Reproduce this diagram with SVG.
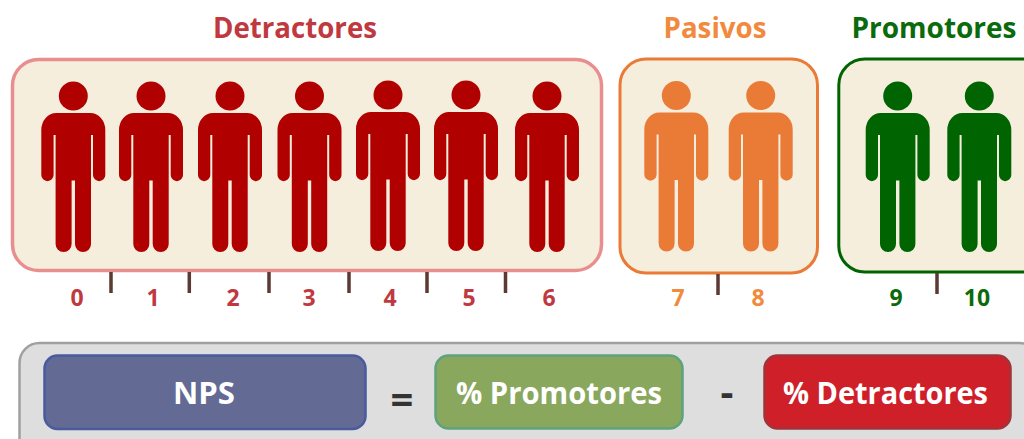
<svg xmlns="http://www.w3.org/2000/svg" xmlns:xlink="http://www.w3.org/1999/xlink" width="1024" height="439" viewBox="0 0 1024 439">
<style>
text{font-family:"Open Sans","Noto Sans","Liberation Sans",sans-serif;font-weight:700;text-anchor:middle}
.frame{fill:#f5eedd;stroke-width:3.5}
.title{font-size:29px}
.num{font-size:23px}
.btn{font-size:30px;fill:#fff}
.op{font-size:40px;fill:#333}
.tick{stroke:#5b3a33;stroke-width:3.5;fill:none}
.box{stroke-width:2.5}
.r{fill:#b00000}.o{fill:#ea7b36}.g{fill:#006400}
.tr{fill:#c0393f}.to{fill:#f28a3e}.tg{fill:#0b6a0b}
</style>
<defs>
<g id="person">
<circle cx="0" cy="-17" r="14.5"/>
<path d="M-17,0H17A15,17 0 0 1 32,17V62A6.1,6.1 0 0 1 19.7,62V22H17.7V131A8,8 0 0 1 1.7,131V67.5H-1.7V131A8,8 0 0 1 -17.7,131V22H-19.7V62A6.1,6.1 0 0 1 -32,62V17A15,17 0 0 1 -17,0Z"/>
</g>
</defs>
<rect width="1024" height="439" fill="#fff"/>
<g id="detractores">
<text class="title tr" x="295" y="38" textLength="164" lengthAdjust="spacingAndGlyphs">Detractores</text>
<rect class="frame" x="12.500" y="59.500" width="589" height="211" rx="26" stroke="#e98e8e"/>
<use xlink:href="#person" href="#person" class="r" transform="translate(73.300,113)"/>
<use xlink:href="#person" href="#person" class="r" transform="translate(151,113)"/>
<use xlink:href="#person" href="#person" class="r" transform="translate(230,113)"/>
<use xlink:href="#person" href="#person" class="r" transform="translate(309.500,113)"/>
<use xlink:href="#person" href="#person" class="r" transform="translate(388,112)"/>
<use xlink:href="#person" href="#person" class="r" transform="translate(466,112)"/>
<use xlink:href="#person" href="#person" class="r" transform="translate(547,113)"/>
<text class="num tr" x="77" y="306">0</text>
<text class="num tr" x="153" y="306">1</text>
<text class="num tr" x="233" y="306">2</text>
<text class="num tr" x="309" y="306">3</text>
<text class="num tr" x="390" y="306">4</text>
<text class="num tr" x="469" y="306">5</text>
<text class="num tr" x="549" y="306">6</text>
</g>
<g id="pasivos">
<text class="title to" x="715" y="38" textLength="103" lengthAdjust="spacingAndGlyphs">Pasivos</text>
<rect class="frame" x="620" y="59" width="197.500" height="214" rx="26" stroke="#ea7b36" style="stroke-width:3"/>
<use xlink:href="#person" href="#person" class="o" transform="translate(676.300,112.500)"/>
<use xlink:href="#person" href="#person" class="o" transform="translate(760.700,112.500)"/>
<text class="num to" x="678" y="306">7</text>
<text class="num to" x="758" y="306">8</text>
</g>
<g id="promotores">
<text class="title tg" x="934" y="38" textLength="165" lengthAdjust="spacingAndGlyphs">Promotores</text>
<rect class="frame" x="838.800" y="59" width="220" height="213" rx="26" stroke="#006400" style="stroke-width:3"/>
<use xlink:href="#person" href="#person" class="g" transform="translate(897.700,113)"/>
<use xlink:href="#person" href="#person" class="g" transform="translate(979.300,113)"/>
<text class="num tg" x="896" y="306">9</text>
<text class="num tg" x="977" y="306">10</text>
</g>
<g id="connectors">
<path class="tick" d="M111,272V293M189.300,272V293M269,272V293M349,272V293M427,272V293M505.500,272V293M718,274V295M937,273V294"/>
</g>
<g id="formula">
<rect x="19.500" y="343" width="1020" height="120" rx="20" fill="#dedede" stroke="#a0a0a0" stroke-width="2.500"/>
<g id="nps">
<rect class="box" x="44.500" y="355.500" width="321" height="73.500" rx="13" fill="#636b95" stroke="#4a5a9f"/>
<text class="btn" x="204" y="404" textLength="62" lengthAdjust="spacingAndGlyphs">NPS</text>
</g>
<text class="op" x="402" y="414">=</text>
<g id="pct-promotores">
<rect class="box" x="435.500" y="355.500" width="247" height="73" rx="13" fill="#8aa75e" stroke="#5da37e"/>
<text class="btn" x="559" y="404" textLength="206" lengthAdjust="spacingAndGlyphs">% Promotores</text>
</g>
<text class="op" x="727" y="406">-</text>
<g id="pct-detractores">
<rect class="box" x="764.500" y="355.500" width="246" height="73" rx="13" fill="#cf202a" stroke="#a1333a"/>
<text class="btn" x="885.500" y="404" textLength="205" lengthAdjust="spacingAndGlyphs">% Detractores</text>
</g>
</g>
</svg>
